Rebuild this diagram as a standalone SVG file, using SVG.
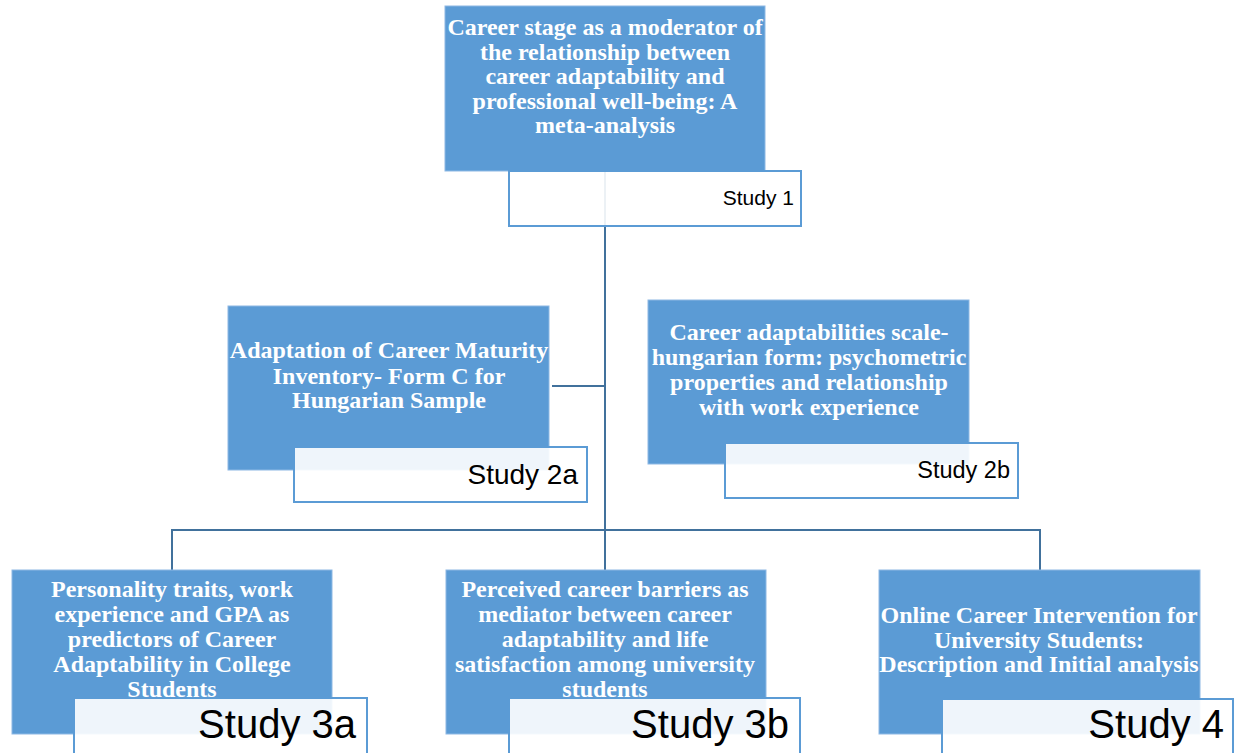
<svg xmlns="http://www.w3.org/2000/svg" width="1235" height="753" viewBox="0 0 1235 753">
<style>
.box{fill:#5B9BD5;stroke:#8DB8E4;stroke-width:1}
.tag{fill:#FFFFFF;fill-opacity:0.9;stroke:#5B9BD5;stroke-width:2}
.t{font-family:"Liberation Serif","Times New Roman",serif;font-weight:bold;font-size:24px;fill:#FFFFFF;text-anchor:middle}
.s{font-family:"Liberation Sans",Arial,sans-serif;fill:#000000;text-anchor:end}
.c{fill:none;stroke:#41719C;stroke-width:2}
</style>
<rect width="1235" height="753" fill="#FFFFFF"/>
<g id="connectors">
<path class="c" d="M605,171 V530"/>
<path class="c" d="M552,386 H605"/>
<path class="c" d="M172,570 V530 H1040 V570"/>
<path class="c" d="M605,530 V570"/>
</g>
<g id="study1">
<rect class="box" x="445" y="6" width="320" height="165"/>
<text class="t"><tspan x="605" y="35">Career stage as a moderator of</tspan><tspan x="605" y="60">the relationship between</tspan><tspan x="605" y="84">career adaptability and</tspan><tspan x="605" y="109">professional well-being: A</tspan><tspan x="605" y="133">meta-analysis</tspan></text>
<rect class="tag" x="509" y="171" width="292" height="55"/>
<text class="s" x="794" y="205" font-size="21">Study 1</text>
</g>
<g id="study2a">
<rect class="box" x="228" y="306" width="321" height="164"/>
<text class="t"><tspan x="389" y="358">Adaptation of Career Maturity</tspan><tspan x="389" y="384">Inventory- Form C for</tspan><tspan x="389" y="408">Hungarian Sample</tspan></text>
<rect class="tag" x="294" y="447" width="293" height="55"/>
<text class="s" x="578" y="484" font-size="28">Study 2a</text>
</g>
<g id="study2b">
<rect class="box" x="648" y="300" width="321" height="164"/>
<text class="t"><tspan x="809" y="340">Career adaptabilities scale-</tspan><tspan x="809" y="365">hungarian form: psychometric</tspan><tspan x="809" y="390">properties and relationship</tspan><tspan x="809" y="415">with work experience</tspan></text>
<rect class="tag" x="725" y="443" width="293" height="55"/>
<text class="s" x="1010" y="478" font-size="23.5">Study 2b</text>
</g>
<g id="study3a">
<rect class="box" x="12" y="570" width="320" height="164"/>
<text class="t"><tspan x="172" y="597">Personality traits, work</tspan><tspan x="172" y="622">experience and GPA as</tspan><tspan x="172" y="647">predictors of Career</tspan><tspan x="172" y="672">Adaptability in College</tspan><tspan x="172" y="697">Students</tspan></text>
<rect class="tag" x="74" y="698" width="293" height="70"/>
<text class="s" x="356" y="738" font-size="40">Study 3a</text>
</g>
<g id="study3b">
<rect class="box" x="446" y="570" width="320" height="164"/>
<text class="t"><tspan x="605" y="597">Perceived career barriers as</tspan><tspan x="605" y="622">mediator between career</tspan><tspan x="605" y="647">adaptability and life</tspan><tspan x="605" y="672">satisfaction among university</tspan><tspan x="605" y="697">students</tspan></text>
<rect class="tag" x="509" y="698" width="291" height="70"/>
<text class="s" x="789" y="738" font-size="40">Study 3b</text>
</g>
<g id="study4">
<rect class="box" x="879" y="570" width="321" height="164"/>
<text class="t"><tspan x="1039" y="623">Online Career Intervention for</tspan><tspan x="1039" y="648">University Students:</tspan><tspan x="1039" y="672">Description and Initial analysis</tspan></text>
<rect class="tag" x="942" y="699" width="291" height="70"/>
<text class="s" x="1224" y="738" font-size="40">Study 4</text>
</g>
</svg>
